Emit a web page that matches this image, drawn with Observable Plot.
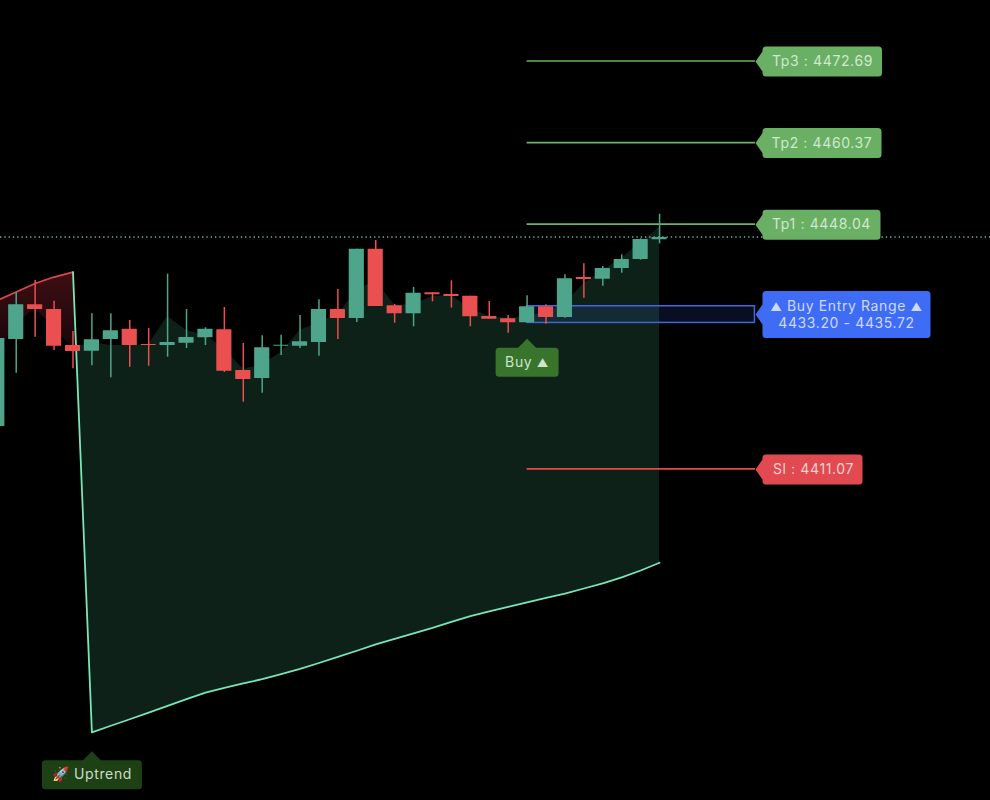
<!DOCTYPE html>
<html>
<head>
<meta charset="utf-8">
<script src="https://cdn.jsdelivr.net/npm/d3@7"></script>
<script src="https://cdn.jsdelivr.net/npm/@observablehq/plot@0.6"></script>
<style>html,body{margin:0;padding:0;background:#000;}svg{display:block;}svg text{letter-spacing:0.62px;}</style>
</head>
<body>
<div id="chart"></div>
<script>
// Candles (bar index = array position)
const open  = [4417.56,4430.70,4435.94,4435.23,4429.79,4428.93,4430.70,4432.26,4429.95,4429.79,4430.14,4430.96,4432.17,4426.02,4424.81,4429.69,4429.69,4430.25,4435.23,4433.87,4444.34,4435.79,4434.58,4437.75,4437.50,4437.24,4434.17,4433.83,4433.22,4435.64,4434.02,4440.06,4439.81,4441.42,4442.78,4445.76];
const high  = [4430.85,4437.75,4439.61,4436.49,4431.91,4434.58,4434.58,4433.57,4432.36,4440.56,4435.23,4432.47,4435.53,4430.10,4431.26,4431.35,4434.33,4436.70,4438.25,4444.34,4445.65,4435.99,4438.55,4437.75,4439.57,4437.24,4436.44,4434.33,4437.30,4435.94,4440.47,4442.13,4441.73,4443.49,4445.91,4449.62];
const low   = [4417.56,4425.61,4431.05,4429.04,4426.28,4426.73,4424.92,4426.52,4426.67,4428.03,4429.34,4429.79,4425.72,4421.23,4422.59,4428.28,4429.34,4428.18,4430.70,4433.27,4435.68,4433.16,4432.62,4436.39,4435.43,4432.62,4433.77,4431.65,4433.22,4433.01,4433.92,4436.94,4438.75,4440.71,4442.68,4445.15];
const close = [4430.85,4435.94,4435.23,4429.69,4428.89,4430.66,4432.02,4429.79,4429.79,4430.25,4431.00,4432.26,4425.91,4424.66,4429.45,4429.84,4430.35,4435.23,4433.87,4444.34,4435.68,4434.58,4437.69,4437.45,4437.20,4434.13,4433.77,4433.22,4435.64,4434.02,4439.87,4439.76,4441.42,4442.78,4445.80,4446.11];

// Trend band, red section
const downIndex = [0,1,2,3,4];
const downLine  = [4436.59,4437.87,4439.16,4440.13,4440.87];
const downMid   = [4428.59,4433.12,4435.38,4432.36,4429.49];

// Trend band, green section
const upIndex = [5,6,7,8,9,10,11,12,13,14,15,16,17,18,19,20,21,22,23,24,25,26,27,28,29,30,31,32,33,34,35];
const upLine  = [4371.35,4372.36,4373.34,4374.35,4375.36,4376.38,4377.36,4378.07,4378.75,4379.40,4380.17,4380.94,4381.84,4382.75,4383.69,4384.64,4385.47,4386.30,4387.13,4388.04,4388.93,4389.65,4390.30,4391.01,4391.66,4392.31,4393.09,4393.85,4394.76,4395.81,4396.98];
const upMid   = [4430.25,4429.79,4429.79,4429.95,4434.17,4432.06,4431.30,4429.34,4426.17,4426.93,4428.74,4432.06,4433.27,4434.48,4438.10,4439.61,4435.84,4435.99,4437.20,4437.35,4435.38,4434.17,4433.87,4434.17,4434.78,4436.14,4439.16,4441.12,4442.93,4445.35,4447.62];
const crossIndex = 4.16, crossPrice = 4429.49;

// Trade levels
const levelNames  = ["Tp3","Tp2","Tp1","Sl"];
const levelPrices = [4472.69,4460.37,4448.04,4411.07];
const entryLow = 4433.20, entryHigh = 4435.72;
const lastPrice = 4446.11;
const signalIndex = 28, levelEndIndex = 40.07;
const buyTipPrice = 4430.81, trendTipIndex = 5, trendTipPrice = 4368.52;

const candles = open.map((o,i)=>({i,o,h:high[i],l:low[i],c:close[i],up:close[i]>=o}));
const bull="#4ea58c", bear="#e9504f", lvlGreen="#6ab565", slRed="#e5484e", blue="#3f6cf4";

const red = downIndex.map((i,k)=>({i,a:downLine[k],b:downMid[k]}));
red.push({i:crossIndex,a:crossPrice,b:crossPrice});
const green = [{i:crossIndex,a:crossPrice,b:crossPrice},...upIndex.map((i,k)=>({i,a:upLine[k],b:upMid[k]}))];
const fullLine = [...downIndex.map((i,k)=>({i,v:downLine[k],side:"d"})),...upIndex.map((i,k)=>({i,v:upLine[k],side:"u"}))];

function rounded(ctx,pts,r){
  const n=pts.length;
  const first=pts[0];
  ctx.moveTo(first[0],first[1]);
  for(let k=1;k<=n;k++){
    const p=pts[k%n], q=pts[(k+1)%n];
    if(p[2]) ctx.arcTo(p[0],p[1],q[0],q[1],r); else ctx.lineTo(p[0],p[1]);
  }
  ctx.closePath();
}
const calloutLeft=(w,t,b)=>({draw(ctx){ rounded(ctx,[[0,0],[7,-10],[7,t,1],[7+w,t,1],[7+w,b,1],[7,b,1],[7,10]],3.5); }});
const calloutUp=(l,r,h)=>({draw(ctx){ rounded(ctx,[[0,0],[9,9],[r,9,1],[r,9+h,1],[l,9+h,1],[l,9,1],[-9,9]],3.5); }});

const font={fontFamily:"Inter, 'Noto Sans', sans-serif",fontSize:14,lineHeight:1.22};
const txt=(s,x,y,dx,dy,fill)=>Plot.text([s],{x:()=>x,y:()=>y,text:d=>d,dx,dy,fill,textAnchor:"middle",lineAnchor:"middle",...font});

const levelWidth={Tp3:119.5,Tp2:119,Tp1:118,Sl:100};
const levelDx={Tp3:67,Tp2:66.5,Tp1:66,Sl:58};

const marks=[
  Plot.areaY(red,{x:"i",y1:"a",y2:"b",fill:"url(#redFade)"}),
  Plot.areaY(green,{x:"i",y1:"a",y2:"b",fill:"#0d2118"}),
  Plot.line(fullLine.filter(d=>d.side==="d"),{x:"i",y:"v",stroke:bear,strokeWidth:1.7,strokeOpacity:0.9}),
  Plot.line(fullLine.filter(d=>d.side==="u"||d.i===4),{x:"i",y:"v",stroke:"#78e6b6",strokeWidth:1.8}),
  Plot.ruleY([lastPrice],{dy:-0.5,stroke:"#5fbfa3",strokeWidth:1.4,strokeDasharray:"1.3 3"}),
  Plot.ruleY(levelPrices,{dy:-0.5,x1:()=>signalIndex,x2:()=>levelEndIndex,stroke:(d,i)=>i<3?lvlGreen:slRed,strokeWidth:1.7}),
  Plot.rect([0],{x1:()=>signalIndex,x2:()=>levelEndIndex-0.03,y1:()=>entryLow,y2:()=>entryHigh,fill:blue,fillOpacity:0.14,stroke:"#3f68d9",strokeWidth:1.5}),
  Plot.ruleX(candles,{x:"i",y1:"l",y2:"h",stroke:d=>d.up?bull:bear,strokeWidth:1.5}),
  Plot.rect(candles,{x1:d=>d.i-0.4,x2:d=>d.i+0.4,y1:d=>Math.min(d.o,d.c),y2:d=>Math.max(d.o,d.c),fill:d=>d.up?bull:bear,rx:0.5}),
];
levelNames.forEach((n,k)=>{
  const col=k<3?"#69b064":"#e04a50";
  marks.push(Plot.dot([0],{x:()=>levelEndIndex,y:()=>levelPrices[k],r:1,fill:col,symbol:calloutLeft(levelWidth[n],-15,15)}));
  marks.push(txt(`${n} : ${levelPrices[k].toFixed(2)}`,levelEndIndex,levelPrices[k],levelDx[n],-0.7,k<3?"#d2e7cf":"#f2d2d2"));
});
const entryMid=(entryLow+entryHigh)/2;
marks.push(Plot.dot([0],{x:()=>levelEndIndex,y:()=>entryMid,r:1,fill:blue,symbol:calloutLeft(168,-23.5,23.5)}));
marks.push(txt(`▲ Buy Entry Range ▲\n${entryLow.toFixed(2)} - ${entryHigh.toFixed(2)}`,levelEndIndex,entryMid,91,-1,"#cdd9fa"));
marks.push(Plot.dot([0],{x:()=>signalIndex,y:()=>buyTipPrice,r:1,fill:"#38742c",symbol:calloutUp(-31.5,31.5,29)}));
marks.push(txt("Buy ▲",signalIndex,buyTipPrice,0,23,"#cfe4cb"));
marks.push(Plot.dot([0],{x:()=>trendTipIndex,y:()=>trendTipPrice,r:1,fill:"#1e4015",symbol:calloutUp(-50,50,29)}));
marks.push(txt("🚀 Uptrend",trendTipIndex,trendTipPrice,0,22,"#cddcc9"));

const svg=Plot.plot({
  width:990,height:800,margin:0,
  x:{type:"linear",domain:[0.169,52.49],range:[0,990],axis:null},
  y:{type:"linear",domain:[4361.07,4481.90],range:[800,0],axis:null},
  style:{background:"#000"},
  marks
});
svg.insertAdjacentHTML("afterbegin",'<defs><linearGradient id="redFade" x1="0" y1="0" x2="0" y2="1"><stop offset="0" stop-color="#3f0e13"/><stop offset="1" stop-color="#15060a"/></linearGradient></defs>');
// make the triangle glyphs the smaller size they have in the labels
svg.querySelectorAll("text, tspan").forEach(el=>{
  [...el.childNodes].filter(n=>n.nodeType===3&&n.nodeValue.includes("▲")).forEach(n=>{
    const frag=document.createDocumentFragment();
    n.nodeValue.split(/(▲)/).forEach(part=>{
      if(part==="▲"){
        const t=document.createElementNS("http://www.w3.org/2000/svg","tspan");
        t.setAttribute("font-size","11.5");
        t.textContent=part;
        frag.append(t);
      }else if(part) frag.append(part);
    });
    n.replaceWith(frag);
  });
});
document.getElementById("chart").append(svg);
</script>
</body>
</html>
